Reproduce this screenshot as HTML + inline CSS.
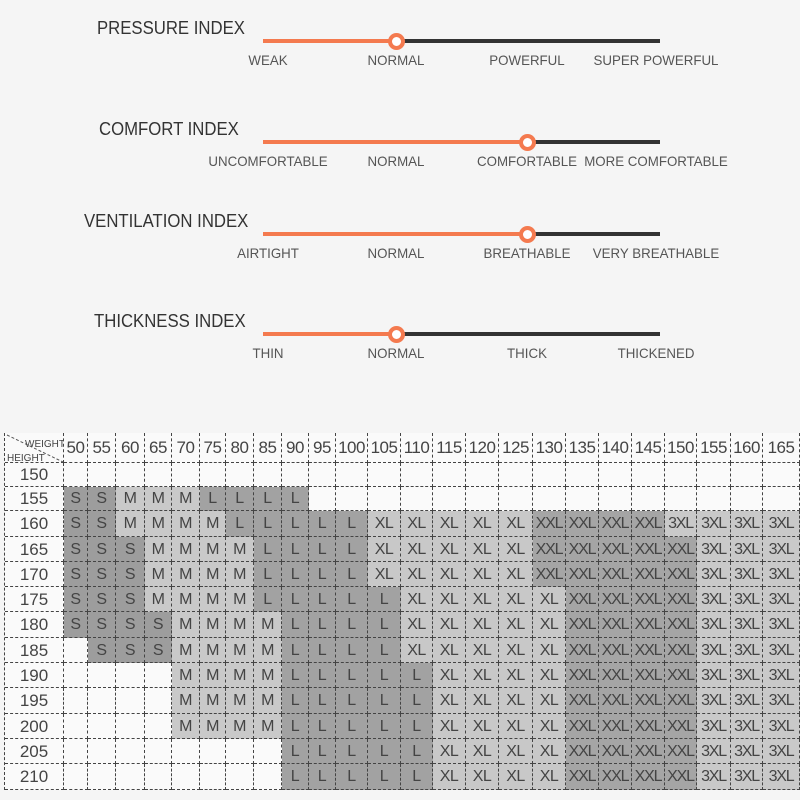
<!DOCTYPE html>
<html><head><meta charset="utf-8"><style>
body{margin:0;width:800px;height:800px;background:#f5f5f5;position:relative;overflow:hidden;font-family:"Liberation Sans",sans-serif}
.t{position:absolute;font-size:18px;color:#333;transform:scaleX(.93);transform-origin:left center;white-space:nowrap}
.l{position:absolute;font-size:14px;color:#555;white-space:nowrap;transform:translateX(-50%) scaleX(.95)}
.bar{position:absolute;left:263px;width:397px;height:4px;background:#333}
.or{position:absolute;left:263px;height:4px;background:#f47a4f}
.k{position:absolute;width:9px;height:9px;border-radius:50%;border:4px solid #f47a4f;background:#fff}
.c{position:absolute;box-sizing:border-box;border-right:1px dashed #444;border-bottom:1px dashed #444;text-align:center;color:#444;font-size:16px;white-space:nowrap;overflow:hidden;letter-spacing:-.5px}
</style></head><body>
<div id="top"></div>
<div id="tbl"></div>
<script>
var S=[["PRESSURE INDEX",97,41,396,["WEAK","NORMAL","POWERFUL","SUPER POWERFUL"]],
["COMFORT INDEX",99,142,527,["UNCOMFORTABLE","NORMAL","COMFORTABLE","MORE COMFORTABLE"]],
["VENTILATION INDEX",84,234,527,["AIRTIGHT","NORMAL","BREATHABLE","VERY BREATHABLE"]],
["THICKNESS INDEX",94,334,396,["THIN","NORMAL","THICK","THICKENED"]]];
var h="",lx=[268,396,527,656];
S.forEach(function(s){
h+='<div class="t" style="left:'+s[1]+'px;top:'+(s[2]-23)+'px">'+s[0]+'</div>';
h+='<div class="bar" style="top:'+(s[2]-2)+'px"></div><div class="or" style="top:'+(s[2]-2)+'px;width:'+(s[3]-263)+'px"></div>';
h+='<div class="k" style="left:'+(s[3]-8)+'px;top:'+(s[2]-8)+'px"></div>';
s[4].forEach(function(t,i){h+='<div class="l" style="left:'+lx[i]+'px;top:'+(s[2]+11)+'px">'+t+'</div>';});
});
document.getElementById("top").innerHTML=h;
var xs=[5,64,88,116,145,172,200,226,254,282,309,336,368,401,433,466,499,533,566,599,632,665,697,731,763,800];
var ys=[433,463,487,511,537,562,587,612,638,663,688,714,739,764,790];
var W=[50,55,60,65,70,75,80,85,90,95,100,105,110,115,120,125,130,135,140,145,150,155,160,165];
function r(a){return a.split(" ").map(function(x){return x=="_"?"":x;});}
var rows={
150:r("_ _ _ _ _ _ _ _ _ _ _ _ _ _ _ _ _ _ _ _ _ _ _ _"),
155:r("S S M M M L L L L _ _ _ _ _ _ _ _ _ _ _ _ _ _ _"),
160:r("S S M M M M L L L L L XL XL XL XL XL XXL XXL XXL XXL 3XL 3XL 3XL 3XL"),
165:r("S S S M M M M L L L L XL XL XL XL XL XXL XXL XXL XXL XXL 3XL 3XL 3XL"),
170:r("S S S M M M M L L L L XL XL XL XL XL XXL XXL XXL XXL XXL 3XL 3XL 3XL"),
175:r("S S S M M M M L L L L L XL XL XL XL XL XXL XXL XXL XXL 3XL 3XL 3XL"),
180:r("S S S S M M M M L L L L XL XL XL XL XL XXL XXL XXL XXL 3XL 3XL 3XL"),
185:r("_ S S S M M M M L L L L XL XL XL XL XL XXL XXL XXL XXL 3XL 3XL 3XL"),
190:r("_ _ _ _ M M M M L L L L L XL XL XL XL XXL XXL XXL XXL 3XL 3XL 3XL"),
195:r("_ _ _ _ M M M M L L L L L XL XL XL XL XXL XXL XXL XXL 3XL 3XL 3XL"),
200:r("_ _ _ _ M M M M L L L L L XL XL XL XL XXL XXL XXL XXL 3XL 3XL 3XL"),
205:r("_ _ _ _ _ _ _ _ L L L L L XL XL XL XL XXL XXL XXL XXL 3XL 3XL 3XL"),
210:r("_ _ _ _ _ _ _ _ L L L L L XL XL XL XL XXL XXL XXL XXL 3XL 3XL 3XL")};
var col={"":"#fafafa",S:"#9d9d9d",M:"#c9c9c9",L:"#a2a2a2",XL:"#c8c8c8",XXL:"#a5a5a5","3XL":"#c9c9c9"};
var g='<div style="position:absolute;left:4px;top:433px;width:796px;height:357px;border-left:1px dashed #444;border-top:1px dashed #444;box-sizing:border-box"></div>';
function cell(x0,x1,y0,y1,bg,t,fs,ls){g+='<div class="c" style="left:'+x0+'px;top:'+y0+'px;width:'+(x1-x0)+'px;height:'+(y1-y0)+'px;line-height:'+(y1-y0)+'px;background:'+bg+';font-size:'+fs+'px;letter-spacing:'+ls+'px">'+t+'</div>';}
cell(5,64,433,463,"#fafafa","",16,0);
g+='<svg style="position:absolute;left:5px;top:433px" width="59" height="30"><line x1="2" y1="2" x2="58" y2="29" stroke="#555" stroke-dasharray="3,2"/><text x="20" y="14" font-size="10" fill="#444" font-family="Liberation Sans">WEIGHT</text><text x="2" y="28" font-size="10" fill="#444" font-family="Liberation Sans">HEIGHT</text></svg>';
for(var i=0;i<24;i++)cell(xs[i+1],xs[i+2],433,463,"#fafafa",W[i],17,-.5);
var H=[150,155,160,165,170,175,180,185,190,195,200,205,210];
H.forEach(function(hh,j){cell(5,64,ys[j+1],ys[j+2],"#fafafa",hh,17,0);
rows[hh].forEach(function(v,i){cell(xs[i+1],xs[i+2],ys[j+1],ys[j+2],col[v],v,16,v.length==3?-1.2:-.5);});});
document.getElementById("tbl").innerHTML=g;
</script>
</body></html>
